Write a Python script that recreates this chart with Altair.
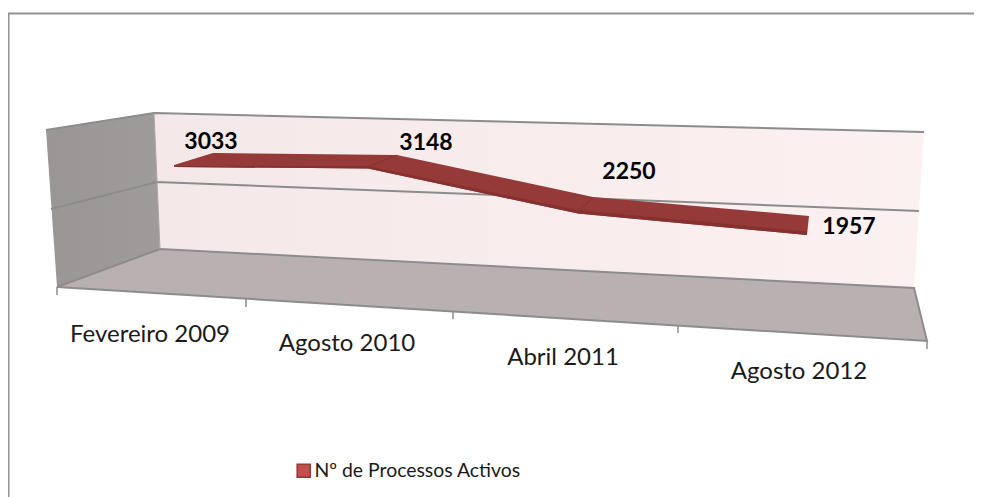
import altair as alt
import pandas as pd

categories = ["Fevereiro 2009", "Agosto 2010", "Abril 2011", "Agosto 2012"]
category_x = [150, 347, 563, 799]
category_y = [335, 344, 358, 372]
values = [3033, 3148, 2250, 1957]
value_label_x = [211, 426, 629, 849]
value_label_y = [142, 143, 172, 227]
series_name = "Nº de Processos Activos"

# 3D scene, in picture units
left_wall_x = [46, 154, 160, 57, 46]
left_wall_y = [130, 113, 249, 287, 130]
back_wall_x = [154, 924, 914, 160, 154]
back_wall_y = [113, 132, 288, 249, 113]
floor_x = [160, 914, 927, 57, 160]
floor_y = [249, 288, 341, 287, 249]
grid_x = [51, 157, 919]
grid_y = [209, 182, 211]
top_edge_x = [46, 154, 924]
top_edge_y = [130, 113, 132]
tick_x = [57, 246, 453, 678, 927]
tick_top = [287, 299, 312, 326, 341]
tick_bottom = [295, 307, 319, 333, 349]

ribbon_x = [174, 213, 397, 593, 809, 807, 578, 368, 174]
ribbon_y = [165, 153, 155, 197, 216, 235, 213.5, 168.5, 167]
ribbon_dark_x = [174, 368, 577, 807, 807, 578, 368, 174]
ribbon_dark_y = [166, 166, 210, 231.5, 235, 213.5, 168.5, 167]
fold_a_x = [368, 397]
fold_a_y = [167, 155]
fold_b_x = [578, 593]
fold_b_y = [213, 197]

frame_x = [8.5, 8.5, 974]
frame_y = [497, 13.5, 13.5]

X = alt.X("x:Q", axis=None, scale=alt.Scale(domain=[8, 974], nice=False, zero=False))
Y = alt.Y("y:Q", axis=None, scale=alt.Scale(domain=[497, 8], nice=False, zero=False))


def table(xs, ys):
    return pd.DataFrame({"x": xs, "y": ys, "i": range(len(xs))})


def shape(xs, ys, fill, stroke=None, width=0.0):
    return (
        alt.Chart(table(xs, ys))
        .mark_line(fill=fill, stroke=stroke or "#000000", strokeWidth=width,
                   strokeOpacity=1 if stroke else 0, strokeJoin="round", interpolate="linear")
        .encode(x=X, y=Y, order=alt.Order("i:Q"))
    )


def path(xs, ys, color="#8c8c8c", width=2.0):
    return (
        alt.Chart(table(xs, ys))
        .mark_line(stroke=color, strokeWidth=width, interpolate="linear")
        .encode(x=X, y=Y, order=alt.Order("i:Q"))
    )


def wall_gradient(a, b):
    return alt.Gradient(gradient="linear", x1=0, x2=1, y1=0, y2=0,
                        stops=[alt.GradientStop(color=a, offset=0), alt.GradientStop(color=b, offset=1)])


layers = [
    path(frame_x, frame_y, "#929292", 2),
    shape(left_wall_x, left_wall_y, wall_gradient("#9b9696", "#a09b9b")),
    shape(back_wall_x, back_wall_y, wall_gradient("#f4e8e8", "#fcf1f1")),
    shape(floor_x, floor_y, "#b9b1b1"),
    path(top_edge_x, top_edge_y),
    path(grid_x, grid_y),
    path(floor_x, floor_y),
    path([left_wall_x[1], left_wall_x[2]], [left_wall_y[1], left_wall_y[2]], "#a9a5a5", 1),
]

for tx, t0, t1 in zip(tick_x, tick_top, tick_bottom):
    layers.append(path([tx, tx], [t0, t1], "#8c8c8c", 1.5))

layers += [
    shape(ribbon_x, ribbon_y, "#953a39"),
    shape(ribbon_dark_x, ribbon_dark_y, "#843130"),
    path(fold_a_x, fold_a_y, "#843130", 1),
    path(fold_b_x, fold_b_y, "#843130", 1),
]

category_table = pd.DataFrame({"x": category_x, "y": category_y, "label": categories})
layers.append(
    alt.Chart(category_table)
    .mark_text(font="Lato", fontSize=24, color="#1a1a1a", baseline="middle", align="center")
    .encode(x=X, y=Y, text="label:N")
)

value_table = pd.DataFrame({"x": value_label_x, "y": value_label_y, "value": values})
layers.append(
    alt.Chart(value_table)
    .mark_text(font="Lato", fontSize=23, fontWeight="bold", color="#000000", baseline="middle", align="center")
    .encode(x=X, y=Y, text="value:Q")
)

legend_table = pd.DataFrame({"x": [ribbon_x[1]], "y": [ribbon_y[1]], "series": [series_name]})
layers.append(
    alt.Chart(legend_table)
    .mark_square(size=0, opacity=0)
    .encode(
        x=X,
        y=Y,
        color=alt.Color(
            "series:N",
            scale=alt.Scale(domain=[series_name], range=["#c0504d"]),
            legend=alt.Legend(
                title=None,
                orient="none",
                legendX=286,
                legendY=453,
                symbolType="square",
                symbolSize=170,
                symbolOpacity=1,
                symbolStrokeColor="#953735",
                symbolStrokeWidth=1.5,
                labelFont="Lato",
                labelFontSize=19.4,
                labelColor="#1a1a1a",
                labelOffset=1,
                labelLimit=400,
            ),
        ),
    )
)

chart = (
    alt.layer(*layers)
    .properties(width=966, height=489, padding=0, autosize=alt.AutoSizeParams(type="none"), background="#ffffff")
    .configure_view(strokeWidth=0)
)

chart.save("out.html", embed_options={"renderer": "svg", "actions": False})
